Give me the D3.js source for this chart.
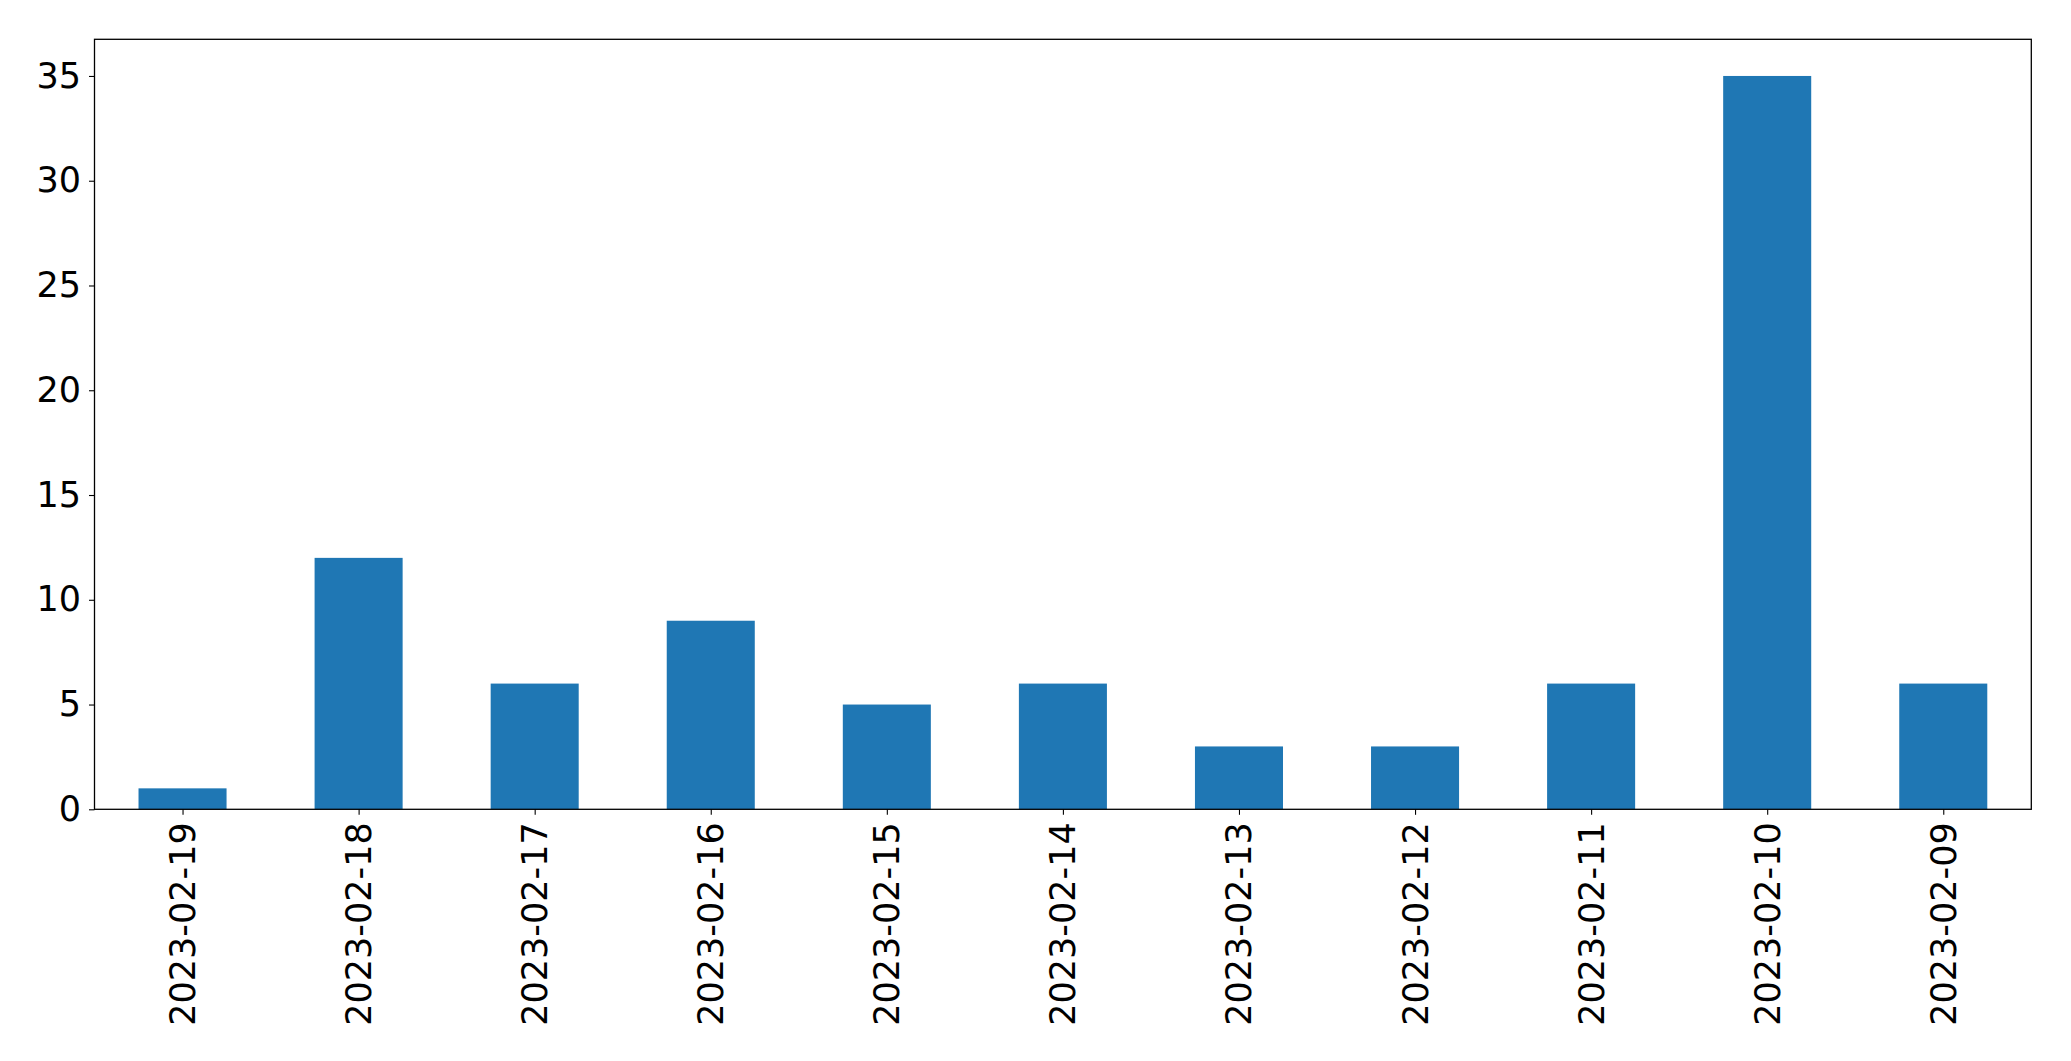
<!DOCTYPE html>
<html><head><meta charset="utf-8">
<script src="https://cdn.jsdelivr.net/npm/d3@7"></script>
<style>html,body{margin:0;padding:0;background:#fff;}</style>
</head><body>
<svg id="c" width="2071" height="1061"></svg>
<script>
const categories = ["2023-02-19","2023-02-18","2023-02-17","2023-02-16","2023-02-15","2023-02-14","2023-02-13","2023-02-12","2023-02-11","2023-02-10","2023-02-09"];
const values = [1, 12, 6, 9, 5, 6, 3, 3, 6, 35, 6];
const yTicks = [0, 5, 10, 15, 20, 25, 30, 35];

const W = 2071, H = 1061;
const m = {left: 94.5, top: 39.3, right: 2031.3, bottom: 809.3};
const svg = d3.select("#c");
const font = "DejaVu Sans";
const fs = 35;

const x = d3.scaleLinear().domain([-0.5, categories.length - 0.5]).range([m.left, m.right]);
const y = d3.scaleLinear().domain([0, 35 * 1.05]).range([m.bottom, m.top]);

svg.append("g").selectAll("rect").data(values).join("rect")
  .attr("x", (d, i) => x(i - 0.25))
  .attr("width", (d, i) => x(i + 0.25) - x(i - 0.25))
  .attr("y", d => y(d))
  .attr("height", d => y(0) - y(d))
  .attr("fill", "#1f77b4");

// y axis
const ya = svg.append("g").attr("transform", `translate(${m.left},0)`)
  .call(d3.axisLeft(y).tickValues(yTicks).tickSize(5.5).tickPadding(8).tickFormat(d3.format("d")));
ya.select(".domain").remove();
ya.selectAll("line").attr("stroke", "#000").attr("stroke-width", 1.1);
ya.selectAll("text").attr("font-family", font).attr("font-size", fs).attr("fill", "#000");

// x axis
const xa = svg.append("g").attr("transform", `translate(0,${m.bottom})`)
  .call(d3.axisBottom(x).tickValues(d3.range(categories.length)).tickSize(5.5).tickPadding(0).tickFormat(i => categories[i]));
xa.select(".domain").remove();
xa.selectAll("line").attr("stroke", "#000").attr("stroke-width", 1.1);
xa.selectAll("text")
  .attr("font-family", font).attr("font-size", fs).attr("fill", "#000")
  .attr("text-anchor", "end")
  .attr("dy", null)
  .attr("y", 0)
  .attr("transform", "translate(12,13) rotate(-90)");

// frame
svg.append("rect")
  .attr("x", m.left).attr("y", m.top)
  .attr("width", m.right - m.left).attr("height", m.bottom - m.top)
  .attr("fill", "none").attr("stroke", "#000").attr("stroke-width", 1.3);
</script>
</body></html>
